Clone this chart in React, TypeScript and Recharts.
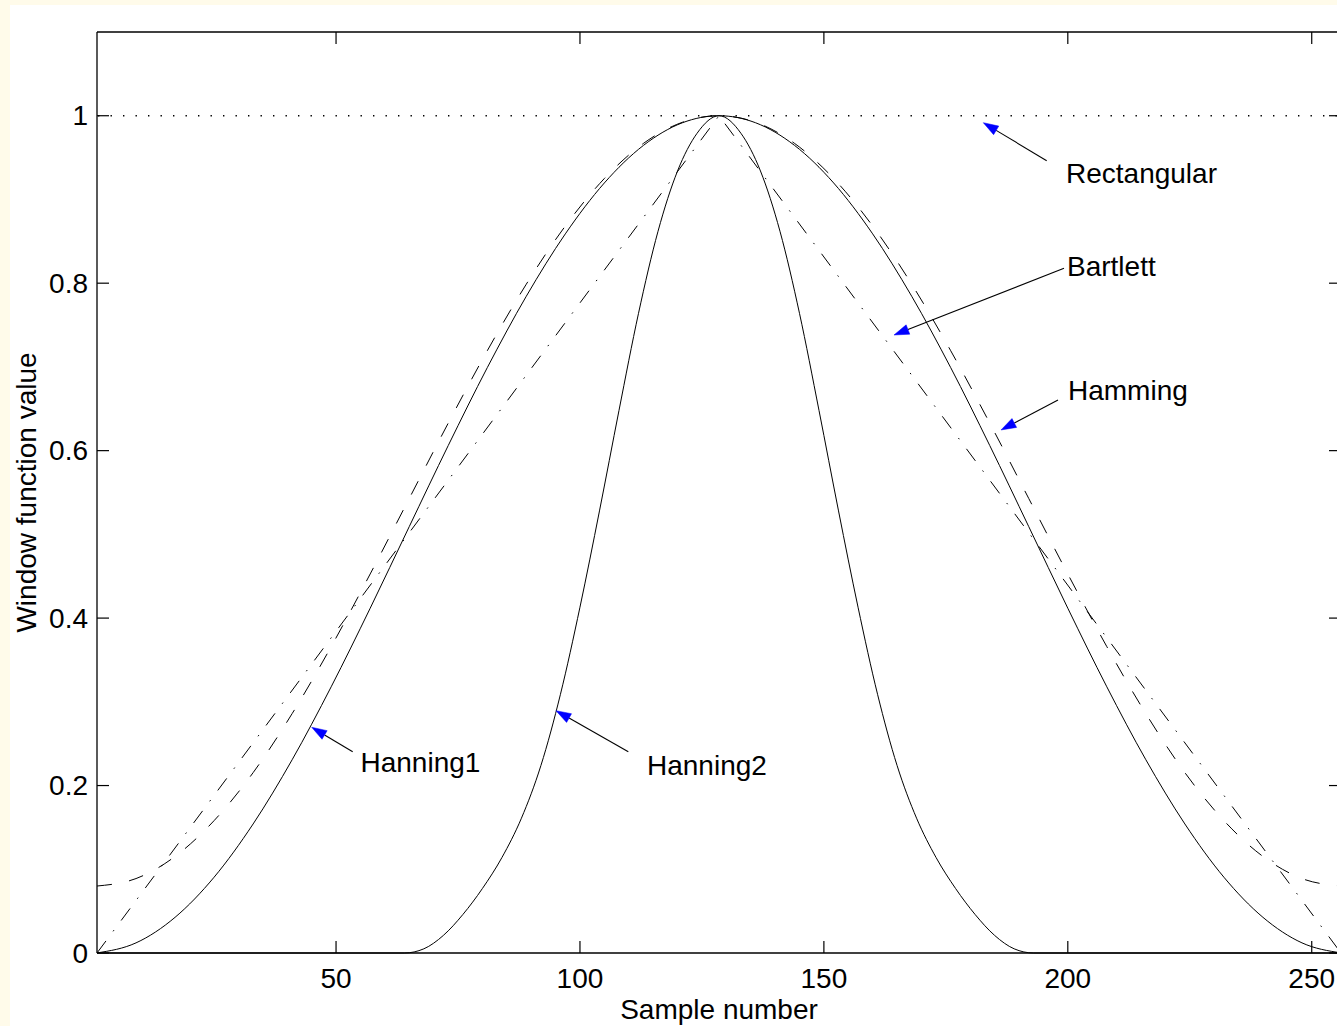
import React from 'react';
import { LineChart, Line, XAxis, YAxis, ReferenceLine, ReferenceDot, Label } from 'recharts';

const FONT = '"Liberation Sans", Arial, Helvetica, sans-serif';
const FS = 28;

// sample positions for the smooth windows
const sampleX = [1, 9, 17, 25, 33, 41, 49, 57, 65, 73, 81, 89, 97, 105, 113, 121, 128.5, 136, 144, 152, 160, 168, 176, 184, 192, 200, 208, 216, 224, 232, 240, 248, 256];
const hanning1Values = [0.0001, 0.0121, 0.0426, 0.0905, 0.1541, 0.2308, 0.3179, 0.4118, 0.5092, 0.6061, 0.6991, 0.7844, 0.8589, 0.9197, 0.9645, 0.9916, 1.0, 0.9916, 0.9645, 0.9197, 0.8589, 0.7844, 0.6991, 0.6061, 0.5092, 0.4118, 0.3179, 0.2308, 0.1541, 0.0905, 0.0426, 0.0121, 0.0001];
const hammingValues = [0.08, 0.0889, 0.1153, 0.1581, 0.2154, 0.2859, 0.3659, 0.4527, 0.5428, 0.6329, 0.7193, 0.7988, 0.8683, 0.925, 0.9669, 0.9922, 1.0, 0.9922, 0.9669, 0.925, 0.8683, 0.7988, 0.7193, 0.6329, 0.5428, 0.4527, 0.3659, 0.2859, 0.2154, 0.1581, 0.1153, 0.0889, 0.08];

const hanning2X = [1, 64, 68, 72, 76, 80, 84, 88, 92, 96, 100, 104, 108, 112, 116, 120, 124, 128.5, 133, 137, 141, 145, 149, 153, 157, 161, 165, 169, 173, 177, 181, 185, 189, 193, 256];
const hanning2Values = [0, 0, 0.005, 0.021, 0.046, 0.077, 0.114, 0.161, 0.224, 0.309, 0.413, 0.528, 0.648, 0.764, 0.862, 0.934, 0.979, 1, 0.979, 0.934, 0.862, 0.764, 0.648, 0.528, 0.413, 0.309, 0.224, 0.161, 0.114, 0.077, 0.046, 0.021, 0.005, 0, 0];

const bartlettX = [1, 128.5, 256];
const bartlettValues = [0, 1, 0];

const rectangularX = [1, 256];
const rectangularValues = [1, 1];

const xTicks = [50, 100, 150, 200, 250];
const yTicks = [0, 0.2, 0.4, 0.6, 0.8, 1];

// annotations (data coordinates)
const annotationNames = ['Rectangular', 'Bartlett', 'Hamming', 'Hanning1', 'Hanning2'];
const annotationTextX = [199.63, 199.84, 200.04, 55.01, 113.74];
const annotationTextY = [0.9193, 0.8086, 0.6599, 0.2165, 0.2126];
const arrowTailX = [195.67, 199.22, 197.99, 53.41, 109.91];
const arrowTailY = [0.9463, 0.8178, 0.6605, 0.2404, 0.2404];
const arrowTipX = [182.68, 164.37, 186.31, 45.01, 95.09];
const arrowTipY = [0.9917, 0.7381, 0.6247, 0.2696, 0.2894];

const toPoints = (xs: number[], ys: number[]) => xs.map((x, i) => ({ x, y: ys[i] }));
const hanning1Data = toPoints(sampleX, hanning1Values);
const hammingData = toPoints(sampleX, hammingValues);
const hanning2Data = toPoints(hanning2X, hanning2Values);
const bartlettData = toPoints(bartlettX, bartlettValues);
const rectangularData = toPoints(rectangularX, rectangularValues);

const fmt = (v: number) => String(v);

const BottomTick = (p: any) => (
  <g>
    <line x1={p.x} y1={p.y} x2={p.x} y2={p.y - 12} stroke="#000" strokeWidth={1.2} />
    <text x={p.x} y={p.y + 35} textAnchor="middle" fontSize={FS} fontFamily={FONT} fill="#000">{fmt(p.payload.value)}</text>
  </g>
);
const TopTick = (p: any) => (
  <line x1={p.x} y1={p.y} x2={p.x} y2={p.y + 12} stroke="#000" strokeWidth={1.2} />
);
const LeftTick = (p: any) => (
  <g>
    <line x1={p.x} y1={p.y} x2={p.x + 12} y2={p.y} stroke="#000" strokeWidth={1.2} />
    <text x={p.x - 9} y={p.y + 9.5} textAnchor="end" fontSize={FS} fontFamily={FONT} fill="#000">{fmt(p.payload.value)}</text>
  </g>
);
const RightTick = (p: any) => (
  <line x1={p.x} y1={p.y} x2={p.x - 12} y2={p.y} stroke="#000" strokeWidth={1.2} />
);

const ArrowShape = (p: any) => {
  const { x1, y1, x2, y2 } = p;
  const dx = x2 - x1;
  const dy = y2 - y1;
  const len = Math.hypot(dx, dy) || 1;
  const ux = dx / len;
  const uy = dy / len;
  const L = 15;
  const W = 5;
  const bx = x2 - ux * L;
  const by = y2 - uy * L;
  const px = -uy;
  const py = ux;
  return (
    <g>
      <line x1={x1} y1={y1} x2={bx} y2={by} stroke="#000" strokeWidth={1.1} />
      <polygon
        points={`${x2},${y2} ${bx + px * W},${by + py * W} ${bx - px * W},${by - py * W}`}
        fill="#0000FF"
        stroke="#0000FF"
        strokeWidth={0.5}
      />
    </g>
  );
};

const XLabel = (p: any) => {
  const vb = p.viewBox || {};
  return (
    <text x={vb.x + vb.width / 2} y={vb.y + 66} textAnchor="middle" fontSize={FS} fontFamily={FONT} fill="#000">
      Sample number
    </text>
  );
};
const YLabel = (p: any) => {
  const vb = p.viewBox || {};
  const x = vb.x + vb.width - 61;
  const y = vb.y + vb.height / 2;
  return (
    <text x={x} y={y} transform={`rotate(-90 ${x} ${y})`} textAnchor="middle" fontSize={FS} fontFamily={FONT} fill="#000">
      Window function value
    </text>
  );
};

const axisLineStyle = { stroke: '#000', strokeWidth: 1.3 };

export default function App() {
  return (
    <div style={{ position: 'fixed', left: 0, top: 0, width: 1337, height: 1026, background: '#FFFBEA', overflow: 'hidden' }}>
      <div style={{ position: 'absolute', left: 10, top: 5, right: 0, bottom: 0, background: '#FFFFFF' }} />
      <div style={{ position: 'absolute', left: 0, top: 0 }}>
        <LineChart width={1400} height={1026} margin={{ top: 31, right: 58, bottom: 72, left: 96 }}>
          <XAxis
            type="number"
            dataKey="x"
            domain={[1, 256]}
            ticks={xTicks}
            interval={0}
            height={1}
            tickSize={0}
            tickMargin={0}
            tickLine={false}
            tick={<BottomTick />}
            axisLine={axisLineStyle}
          >
            <Label content={<XLabel />} />
          </XAxis>
          <XAxis
            xAxisId="top"
            orientation="top"
            type="number"
            dataKey="x"
            domain={[1, 256]}
            ticks={xTicks}
            interval={0}
            height={1}
            tickSize={0}
            tickMargin={0}
            tickLine={false}
            tick={<TopTick />}
            axisLine={axisLineStyle}
            allowDataOverflow
          />
          <YAxis
            type="number"
            domain={[0, 1.1]}
            ticks={yTicks}
            interval={0}
            width={1}
            tickSize={0}
            tickMargin={0}
            tickLine={false}
            tick={<LeftTick />}
            axisLine={axisLineStyle}
          >
            <Label content={<YLabel />} />
          </YAxis>
          <YAxis
            yAxisId="right"
            orientation="right"
            type="number"
            domain={[0, 1.1]}
            ticks={yTicks}
            interval={0}
            width={1}
            tickSize={0}
            tickMargin={0}
            tickLine={false}
            tick={<RightTick />}
            axisLine={axisLineStyle}
            allowDataOverflow
          />
          <Line data={rectangularData} dataKey="y" type="linear" stroke="#000" strokeWidth={1.3} strokeDasharray="1.4 11.1" strokeDashoffset={-1} dot={false} activeDot={false} isAnimationActive={false} />
          <Line data={bartlettData} dataKey="y" type="linear" stroke="#000" strokeWidth={1} strokeDasharray="15 12 1.5 12" dot={false} activeDot={false} isAnimationActive={false} />
          <Line data={hammingData} dataKey="y" type="monotone" stroke="#000" strokeWidth={1} strokeDasharray="15 17.5" dot={false} activeDot={false} isAnimationActive={false} />
          <Line data={hanning1Data} dataKey="y" type="monotone" stroke="#000" strokeWidth={1} dot={false} activeDot={false} isAnimationActive={false} />
          <Line data={hanning2Data} dataKey="y" type="monotone" stroke="#000" strokeWidth={1} dot={false} activeDot={false} isAnimationActive={false} />
          {annotationNames.map((name, i) => (
            <ReferenceLine
              key={'arrow-' + name}
              segment={[{ x: arrowTailX[i], y: arrowTailY[i] }, { x: arrowTipX[i], y: arrowTipY[i] }]}
              shape={ArrowShape}
              ifOverflow="visible"
            />
          ))}
          {annotationNames.map((name, i) => (
            <ReferenceDot
              key={'label-' + name}
              x={annotationTextX[i]}
              y={annotationTextY[i]}
              ifOverflow="visible"
              shape={(p: any) => (
                <text x={p.cx} y={p.cy} fontSize={FS} fontFamily={FONT} fill="#000">{name}</text>
              )}
            />
          ))}
        </LineChart>
      </div>
    </div>
  );
}
